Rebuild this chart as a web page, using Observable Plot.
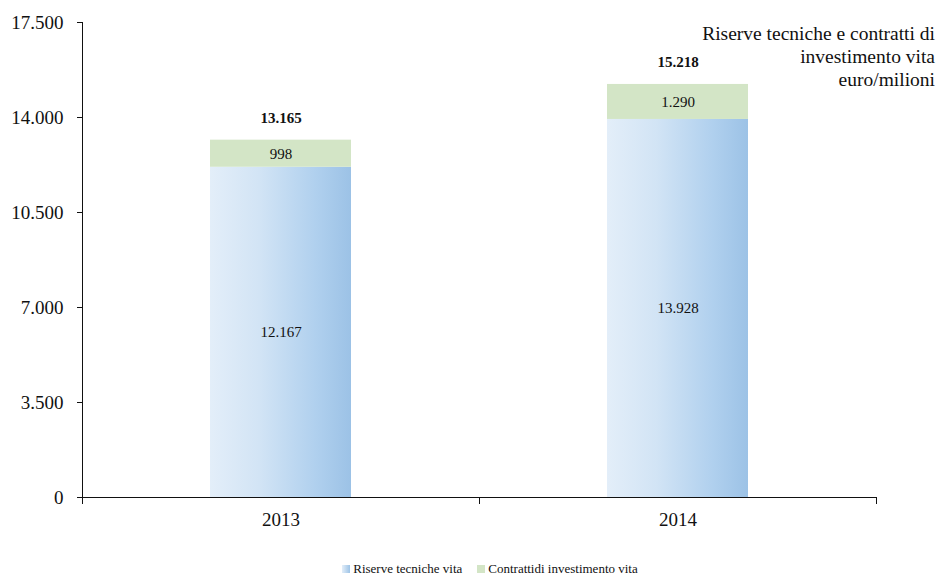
<!DOCTYPE html>
<html>
<head>
<meta charset="utf-8">
<script src="https://cdn.jsdelivr.net/npm/d3@7"></script>
<script src="https://cdn.jsdelivr.net/npm/@observablehq/plot@0.6"></script>
<style>
  html, body { margin: 0; padding: 0; background: #fff; }
  #wrap { position: relative; width: 938px; height: 576px; font-family: "Liberation Serif", serif; color: #111; }
  #chart svg, #chart svg text { font-family: "Liberation Serif", serif !important; }
  #title { position: absolute; right: 3px; top: 22px; text-align: right; font-size: 19.5px; line-height: 23px; }
  #legend { position: absolute; top: 561px; left: 0; width: 938px; font-size: 13px; display: flex; justify-content: center; gap: 15px; padding-left: 42px; box-sizing: border-box; }
  .item { display: flex; align-items: center; }
  .sw { width: 8px; height: 8px; margin-right: 3px; display: inline-block; }
</style>
</head>
<body>
<div id="wrap">
  <div id="chart"></div>
  <div id="title">Riserve tecniche e contratti di<br>investimento vita<br>euro/milioni</div>
  <div id="legend">
    <div class="item"><span class="sw" style="background: linear-gradient(to right, #e3eef9, #9dc3e6);"></span>Riserve tecniche vita</div>
    <div class="item"><span class="sw" style="background: #d3e5c6;"></span>Contrattidi investimento vita</div>
  </div>
</div>
<script>
const years = ["2013", "2014"];
const seriesNames = ["Riserve tecniche vita", "Contrattidi investimento vita"];
const riserve = [12167, 13928];
const contratti = [998, 1290];
const totals = [13165, 15218];
const yTicks = [0, 3500, 7000, 10500, 14000, 17500];

const fmt = d3.formatLocale({decimal: ",", thousands: ".", grouping: [3], currency: ["", "€"]}).format(",");

const rows = [];
years.forEach((y, i) => {
  rows.push({year: y, series: seriesNames[0], value: riserve[i]});
  rows.push({year: y, series: seriesNames[1], value: contratti[i]});
});
const totalRows = years.map((y, i) => ({year: y, total: totals[i]}));

const W = 938, H = 540;
const padInner = 0.645;
const step = (W - 82 - 62) / 2;
const serif = "Liberation Serif, serif";

const defs = () => {
  const ns = "http://www.w3.org/2000/svg";
  const d = document.createElementNS(ns, "defs");
  d.innerHTML = `<linearGradient id="gBlue" x1="0" y1="0" x2="1" y2="0">
    <stop offset="0" stop-color="#e3eef9"/>
    <stop offset="0.35" stop-color="#d2e4f5"/>
    <stop offset="0.75" stop-color="#b0d0ee"/>
    <stop offset="1" stop-color="#9cc2e6"/>
  </linearGradient>`;
  return d;
};

const chart = Plot.plot({
  width: W,
  height: H,
  marginLeft: 82,
  marginRight: 62,
  marginTop: 22,
  marginBottom: 43,
  style: {fontFamily: serif, color: "#111", background: "transparent"},
  x: {domain: years, paddingInner: padInner, paddingOuter: padInner / 2, label: null},
  y: {domain: [0, 17500], ticks: yTicks, label: null},
  color: {domain: seriesNames, range: ["url(#gBlue)", "#d3e5c6"]},
  marks: [
    defs,
    Plot.barY(rows, {x: "year", y: "value", fill: "series", z: "series", order: seriesNames}),
    Plot.text(rows, Plot.stackY({x: "year", y: "value", z: "series", order: seriesNames, text: d => fmt(d.value), fontSize: 15, fontFamily: serif, fill: "#111"})),
    Plot.text(totalRows, {x: "year", y: "total", text: d => fmt(d.total), dy: -22, fontSize: 15, fontWeight: "bold", fontFamily: serif, fill: "#111"}),
    Plot.frame({anchor: "left", stroke: "#111"}),
    Plot.ruleY([0], {stroke: "#111", strokeWidth: 1.2}),
    Plot.axisY({ticks: yTicks, tickFormat: fmt, tickSize: 5, tickPadding: 14, fontSize: 19, fontFamily: serif, stroke: "#111"}),
    Plot.axisX({tickSize: 0, tickPadding: 15, fontSize: 19, fontFamily: serif}),
    Plot.axisX({ticks: years, tickFormat: () => "", tickSize: 7, dx: -step / 2, stroke: "#111"}),
    Plot.axisX({ticks: [years[years.length - 1]], tickFormat: () => "", tickSize: 7, dx: step / 2, stroke: "#111"})
  ]
});
document.getElementById("chart").appendChild(chart);
</script>
</body>
</html>
